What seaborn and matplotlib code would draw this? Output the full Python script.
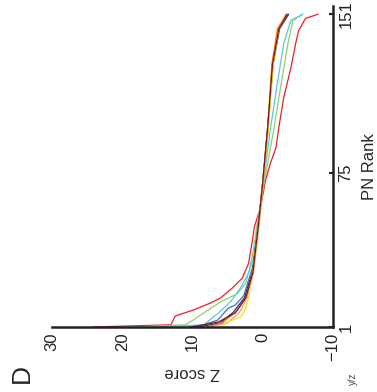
import numpy as np
import pandas as pd
import seaborn as sns
from matplotlib import pyplot as plt

# panel D, drawn turned a quarter turn (rank runs up the right side, Z score runs right-to-left)
red_rank = [1, 2, 3.2, 5.3, 6.3, 9.1, 12.5, 14.9, 19.7, 24.4, 31.6, 37.8, 43.6, 48.8, 58.4, 71.3, 79.5, 87, 96.7, 111, 125, 137, 143, 149, 151]
red_z = [24.2, 13.1, 12.9, 12.6, 12.4, 9.9, 7.4, 6.0, 4.3, 2.9, 2.0, 1.7, 1.4, 1.2, 0.3, -0.4, -1.1, -1.9, -2.3, -3.0, -4.0, -4.7, -5.1, -6.1, -7.9]

green_rank = [1, 2, 3.4, 7.7, 13, 17, 22, 27, 38, 50, 70, 96, 111, 137, 148, 151]
green_z = [18.4, 11.0, 10.3, 8.4, 6.0, 3.6, 2.4, 2.0, 1.3, 0.8, -0.2, -1.6, -2.3, -3.6, -4.3, -5.7]

cyan_rank = [1, 2, 7.7, 13, 20, 27, 34, 50, 70, 96, 118, 137, 148, 151]
cyan_z = [15.0, 8.4, 6.3, 4.6, 3.1, 2.0, 1.3, 0.7, -0.1, -1.1, -2.1, -3.0, -4.0, -5.7]

blue_rank = [1, 2, 4.3, 10, 11.5, 16, 23.5, 31, 50, 70, 96, 127, 144, 151]
blue_z = [10.5, 8.4, 6.4, 4.9, 3.9, 2.7, 2.0, 1.3, 0.6, 0.0, -0.7, -1.4, -2.2, -3.6]

navy_rank = [1, 3, 8, 15, 27, 50, 70, 96, 127, 144, 151]
navy_z = [9.0, 6.0, 4.2, 2.6, 1.5, 0.6, 0.0, -0.7, -1.5, -2.4, -3.7]

salmon_rank = [1, 3, 8, 15, 27, 50, 70, 96, 127, 144, 151]
salmon_z = [7.5, 5.0, 3.3, 2.2, 1.3, 0.5, -0.1, -0.8, -1.4, -2.2, -3.3]

orange_rank = [1, 3, 9, 15, 27, 50, 70, 96, 127, 144, 151]
orange_z = [8.0, 5.7, 3.6, 2.4, 1.4, 0.6, 0.0, -0.7, -1.3, -2.1, -3.4]

yellow_rank = [1, 3, 5.8, 10, 15, 30, 50, 70, 96, 127, 144, 151]
yellow_z = [5.6, 5.3, 3.1, 2.4, 2.0, 1.3, 0.6, 0.0, -0.8, -1.5, -2.3, -3.5]

brown_rank = [1, 3.4, 7.7, 15, 27, 50, 70, 96, 127, 144, 151]
brown_z = [9.9, 6.3, 3.9, 2.4, 1.4, 0.6, 0.0, -0.7, -1.4, -2.3, -3.5]

z_ticks = [30, 20, 10, 0, -10]
z_labels = ['30', '20', '10', '0', '\u221210']
rank_ticks = [1, 75, 151]
rank_labels = ['1', '75', '151']

series = {
    'red': (red_rank, red_z, '#ee1c24'),
    'green': (green_rank, green_z, '#8cd06a'),
    'cyan': (cyan_rank, cyan_z, '#5cc6e6'),
    'blue': (blue_rank, blue_z, '#3b6fcc'),
    'navy': (navy_rank, navy_z, '#262a8a'),
    'salmon': (salmon_rank, salmon_z, '#f4a07a'),
    'orange': (orange_rank, orange_z, '#f47b20'),
    'yellow': (yellow_rank, yellow_z, '#f4e21c'),
    'brown': (brown_rank, brown_z, '#7a1616'),
}

frames = []
for name, (rk, zz, col) in series.items():
    frames.append(pd.DataFrame({'rank': rk, 'z': zz, 'series': name, 'order': np.arange(len(rk))}))
df = pd.concat(frames, ignore_index=True)
palette = {name: v[2] for name, v in series.items()}

sns.set_style('white')
plt.rcParams['font.family'] = ['Liberation Sans', 'DejaVu Sans']

fig = plt.figure(figsize=(3.77, 3.92), dpi=100)
ax = fig.add_axes([0.138, 0.166, 0.745, 0.819])

sns.lineplot(data=df, x='z', y='rank', hue='series', palette=palette,
             estimator=None, sort=False, orient='y', legend=False,
             linewidth=0.9, ax=ax)

ax.set_xlim(30, -10)
ax.set_ylim(1, 155)

for s in ['top', 'left']:
    ax.spines[s].set_visible(False)
for s in ['bottom', 'right']:
    ax.spines[s].set_visible(True)
    ax.spines[s].set_linewidth(1.8)
    ax.spines[s].set_color('#222222')

ax.set_xticks(z_ticks)
ax.set_xticklabels(z_labels, rotation=90, fontsize=12)
ax.yaxis.tick_right()
ax.yaxis.set_label_position('right')
ax.set_yticks(rank_ticks)
ax.set_yticklabels(rank_labels, rotation=90, va='center', fontsize=12)
ax.tick_params(axis='both', direction='in', length=3, width=1.5, colors='#222222', pad=4)

ax.set_xlabel('Z score', rotation=180, fontsize=12, labelpad=3)
ax.set_ylabel('PN Rank', rotation=90, fontsize=12, labelpad=6)

fig.text(0.058, 0.046, 'D', rotation=90, fontsize=19, ha='center', va='center')
fig.text(0.937, 0.035, 'y/z', rotation=90, fontsize=7, ha='center', va='center', color='#444444')

fig.savefig('out.png', dpi=100)
